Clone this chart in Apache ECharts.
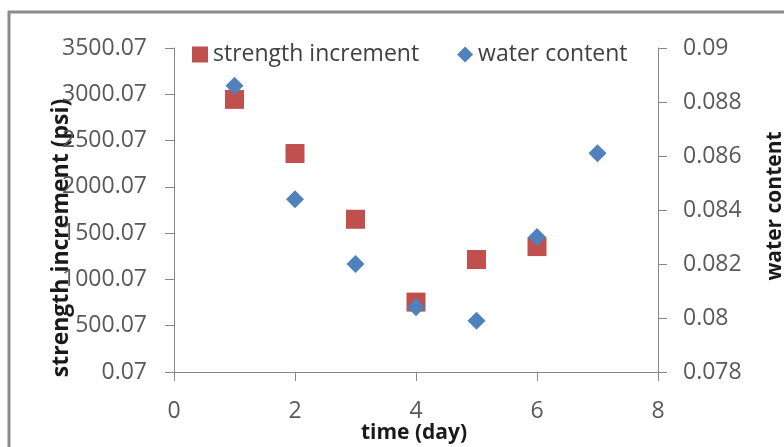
<!DOCTYPE html>
<html>
<head>
<meta charset="utf-8">
<script src="https://cdn.jsdelivr.net/npm/echarts@6/dist/echarts.min.js"></script>
<style>
  html, body { margin: 0; padding: 0; background: #fff; overflow: hidden; }
  #chart { width: 784px; height: 447px; }
</style>
</head>
<body>
<div id="chart"></div>
<script>
// Measurements per day of curing
const days = [1, 2, 3, 4, 5, 6, 7];
const strengthIncrement = [2945, 2360, 1650, 755, 1215, 1355];   // psi, days 1-6
const waterContent = [0.0886, 0.0844, 0.0820, 0.0804, 0.0799, 0.0830, 0.0861]; // days 1-7

const xTicks = { min: 0, max: 8, interval: 2 };
const leftTicks = { min: 0.07, max: 3500.07, interval: 500 };
const rightTicks = { min: 0.078, max: 0.09, interval: 0.002 };

const FONT = '"Open Sans", "DejaVu Sans", sans-serif';
const AXIS_GRAY = '#878787';
const LABEL_GRAY = '#595959';
const TITLE_COLOR = '#1a1a1a';

const strengthPts = strengthIncrement.map((v, i) => [days[i], v]);
const waterPts = waterContent.map((v, i) => [days[i], v]);

const chart = echarts.init(document.getElementById('chart'), null, { renderer: 'canvas' });

const axisLabelBase = { color: LABEL_GRAY, fontFamily: FONT, fontSize: 23 };

chart.setOption({
  animation: false,
  backgroundColor: '#fff',
  grid: { left: 174, right: 126, top: 48, bottom: 75, containLabel: false, outerBoundsMode: 'none' },
  legend: {
    left: 187,
    top: 38,
    itemWidth: 16,
    itemHeight: 16,
    itemGap: 38,
    textStyle: { color: '#404040', fontFamily: FONT, fontSize: 23 },
    data: [
      { name: 'strength increment', icon: 'rect' },
      { name: 'water content', icon: 'diamond' }
    ]
  },
  xAxis: {
    type: 'value',
    min: xTicks.min, max: xTicks.max, interval: xTicks.interval,
    axisLine: { show: true, onZero: false, lineStyle: { color: AXIS_GRAY, width: 1 } },
    axisTick: { show: true, length: 9, inside: false, lineStyle: { color: AXIS_GRAY } },
    axisLabel: Object.assign({ margin: 28 }, axisLabelBase),
    splitLine: { show: false }
  },
  yAxis: [
    {
      type: 'value',
      position: 'left',
      min: leftTicks.min, max: leftTicks.max, interval: leftTicks.interval,
      axisLine: { show: true, lineStyle: { color: AXIS_GRAY, width: 1 } },
      axisTick: { show: true, length: 9, lineStyle: { color: AXIS_GRAY } },
      axisLabel: Object.assign({
        margin: 27,
        formatter: v => v.toFixed(2)
      }, axisLabelBase),
      splitLine: { show: false }
    },
    {
      type: 'value',
      position: 'right',
      min: rightTicks.min, max: rightTicks.max, interval: rightTicks.interval,
      axisLine: { show: true, lineStyle: { color: AXIS_GRAY, width: 1 } },
      axisTick: { show: true, length: 9, lineStyle: { color: AXIS_GRAY } },
      axisLabel: Object.assign({
        margin: 25,
        formatter: v => String(parseFloat(v.toFixed(4)))
      }, axisLabelBase),
      splitLine: { show: false }
    }
  ],
  graphic: [
    {
      // chart-area frame: left edge
      type: 'line',
      shape: { x1: 9, y1: 11, x2: 9, y2: 447 },
      style: { stroke: '#8c8c8c', lineWidth: 3 },
      silent: true, z: -1
    },
    {
      // chart-area frame: top edge
      type: 'line',
      shape: { x1: 8, y1: 12, x2: 784, y2: 12 },
      style: { stroke: '#8c8c8c', lineWidth: 3 },
      silent: true, z: -1
    },
    {
      // keep the lower-left margin clean
      type: 'rect',
      shape: { x: 11, y: 424, width: 345, height: 23 },
      style: { fill: '#fff' },
      silent: true, z: 50
    },
    {
      type: 'text',
      x: 414, y: 433,
      style: {
        text: 'time (day)',
        fill: TITLE_COLOR, font: 'bold 21px ' + FONT,
        align: 'center', verticalAlign: 'middle'
      }
    },
    {
      type: 'text',
      x: 61, y: 238, rotation: Math.PI / 2,
      style: {
        text: 'strength increment (psi)',
        fill: TITLE_COLOR, font: 'bold 23px ' + FONT,
        align: 'center', verticalAlign: 'middle'
      }
    },
    {
      type: 'text',
      x: 775, y: 206, rotation: Math.PI / 2,
      style: {
        text: 'water content',
        fill: TITLE_COLOR, font: 'bold 21px ' + FONT,
        align: 'center', verticalAlign: 'middle'
      }
    }
  ],
  series: [
    {
      name: 'strength increment',
      type: 'scatter',
      yAxisIndex: 0,
      symbol: 'rect',
      symbolSize: 19,
      itemStyle: { color: '#C0504D', opacity: 1 },
      data: strengthPts
    },
    {
      name: 'water content',
      type: 'scatter',
      yAxisIndex: 1,
      symbol: 'diamond',
      symbolSize: 18,
      itemStyle: { color: '#4F81BD', opacity: 1 },
      data: waterPts
    }
  ]
});
</script>
</body>
</html>
